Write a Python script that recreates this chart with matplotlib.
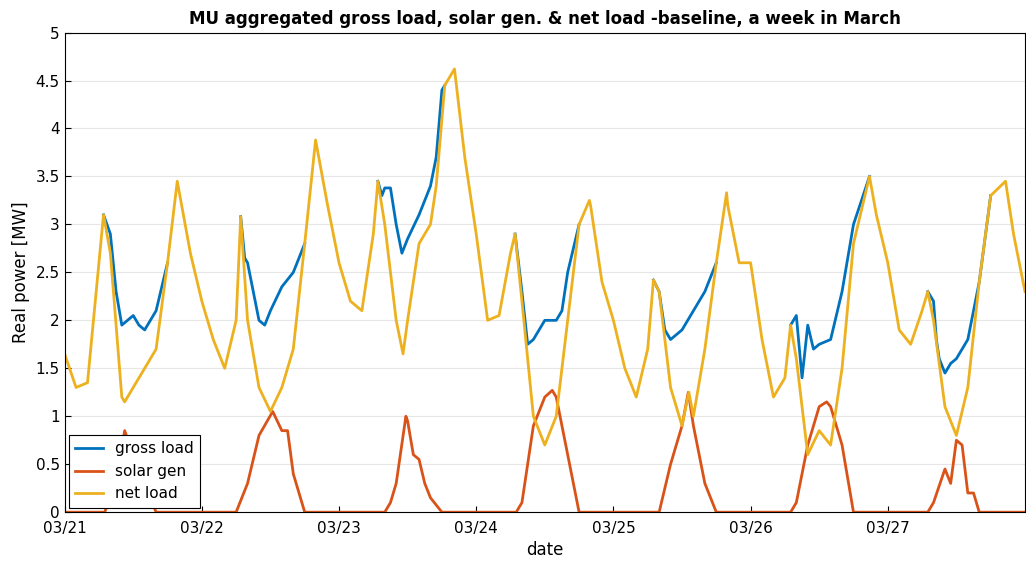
import numpy as np
import matplotlib.pyplot as plt

# net load key points, (hour since 03/21 00:00, MW)
net_h = [0, 2, 4, 6, 6.8, 8, 10, 10.5, 12, 14, 16, 18, 19.7, 22,
         24, 26, 28, 30, 30.8, 32, 34, 36, 38, 40, 42, 43.9, 46,
         48, 50, 52, 54, 54.8, 56, 58, 59.2, 60, 62, 64, 65, 66.5, 68.2, 70,
         72, 74, 76, 78, 78.8, 80, 82, 84, 86, 88, 90, 91.8, 92, 94,
         96, 98, 100, 102, 103, 104, 106, 108, 109.2, 110, 112, 114, 115.8, 116, 118,
         120, 122, 124, 126, 127, 128, 130, 132, 134, 136, 138, 140.8, 142,
         144, 146, 148, 150, 151, 152, 154, 156, 158, 160, 162, 164.6, 166, 168]
net = [1.65, 1.3, 1.35, 2.6, 3.1, 2.7, 1.2, 1.15, 1.3, 1.5, 1.7, 2.6, 3.45, 2.7,
       2.2, 1.8, 1.5, 2.0, 3.08, 2.0, 1.3, 1.05, 1.3, 1.7, 2.8, 3.88, 3.2,
       2.6, 2.2, 2.1, 2.9, 3.45, 3.0, 2.0, 1.65, 2.0, 2.8, 3.0, 3.4, 4.45, 4.62, 3.7,
       2.9, 2.0, 2.05, 2.7, 2.9, 2.2, 1.0, 0.7, 1.0, 2.0, 3.0, 3.25, 3.2, 2.4,
       2.0, 1.5, 1.2, 1.7, 2.42, 2.3, 1.3, 0.9, 1.25, 1.0, 1.7, 2.6, 3.33, 3.2, 2.6,
       2.6, 1.8, 1.2, 1.4, 1.95, 1.6, 0.6, 0.85, 0.7, 1.5, 2.8, 3.5, 3.1,
       2.6, 1.9, 1.75, 2.1, 2.3, 2.0, 1.1, 0.8, 1.3, 2.4, 3.3, 3.45, 2.9, 2.3]

# gross load where it departs from net load (daytime), NaN between days
gross_h = [6.8, 8, 9, 10, 11, 12, 13, 14, 15, 16, 17, 18, np.nan,
           30.8, 31.5, 32, 34, 35, 36, 38, 40, 41, 42, np.nan,
           54.8, 55.5, 56, 57, 58, 59, 60, 62, 63, 64, 65, 66, 66.5, np.nan,
           78.8, 80, 81, 82, 84, 86, 87, 88, 90, np.nan,
           103, 104, 105, 106, 108, 110, 112, 114, np.nan,
           127, 128, 129, 130, 131, 132, 134, 136, 138, 140.8, np.nan,
           151, 152, 152.5, 153, 154, 155, 156, 158, 160, 162]
gross = [3.1, 2.9, 2.3, 1.95, 2.0, 2.05, 1.95, 1.9, 2.0, 2.1, 2.35, 2.6, np.nan,
         3.08, 2.65, 2.6, 2.0, 1.95, 2.1, 2.35, 2.5, 2.65, 2.8, np.nan,
         3.45, 3.3, 3.38, 3.38, 3.0, 2.7, 2.85, 3.1, 3.25, 3.4, 3.7, 4.4, 4.45, np.nan,
         2.9, 2.3, 1.75, 1.8, 2.0, 2.0, 2.1, 2.5, 3.0, np.nan,
         2.42, 2.3, 1.9, 1.8, 1.9, 2.1, 2.3, 2.6, np.nan,
         1.95, 2.05, 1.4, 1.95, 1.7, 1.75, 1.8, 2.3, 3.0, 3.5, np.nan,
         2.3, 2.2, 1.8, 1.6, 1.45, 1.55, 1.6, 1.8, 2.4, 3.3]

# solar generation key points
sol_h = [0, 7, 9, 10.5, 12, 14, 16,
         30, 32, 34, 36.4, 38, 39, 40, 42,
         56, 57, 58, 59.7, 60, 61, 62, 63, 64, 66,
         79, 80, 82, 84, 85.3, 86, 88, 90,
         103, 104, 106, 108, 109.1, 110, 112, 114,
         127, 128, 130, 132, 133.3, 134, 136, 138,
         151, 152, 154, 155, 156, 157, 158, 159, 160, 168]
solar = [0, 0, 0.3, 0.85, 0.6, 0.3, 0,
         0, 0.3, 0.8, 1.05, 0.85, 0.85, 0.4, 0,
         0, 0.1, 0.3, 1.0, 0.95, 0.6, 0.55, 0.3, 0.15, 0,
         0, 0.1, 0.9, 1.2, 1.27, 1.2, 0.6, 0,
         0, 0.0, 0.5, 0.9, 1.25, 0.9, 0.3, 0,
         0, 0.1, 0.7, 1.1, 1.15, 1.1, 0.7, 0,
         0, 0.1, 0.45, 0.3, 0.75, 0.7, 0.2, 0.2, 0, 0]

fig, ax = plt.subplots(figsize=(10.26, 5.71), dpi=100)
fig.subplots_adjust(left=0.063, right=0.999, top=0.943, bottom=0.103)
ax.plot(np.array(gross_h) / 24, gross, color='#0072BD', lw=2, label='gross load')
ax.plot(np.array(sol_h) / 24, solar, color='#D95319', lw=2, label='solar gen')
ax.plot(np.array(net_h) / 24, net, color='#EDB120', lw=2, label='net load')

ax.set_xlim(0, 7)
ax.set_ylim(0, 5)
ax.set_yticks(np.arange(0, 5.01, 0.5))
ax.set_yticklabels(['0', '0.5', '1', '1.5', '2', '2.5', '3', '3.5', '4', '4.5', '5'])
ax.set_xticks(range(7))
ax.set_xticklabels(['03/%d' % d for d in range(21, 28)])
ax.grid(axis='y', color='#e6e6e6', lw=0.8)
ax.set_axisbelow(True)
ax.tick_params(labelsize=11, direction='in', length=4)
ax.tick_params(axis='x', pad=6)
ax.set_xlabel('date', fontsize=12)
ax.set_ylabel('Real power [MW]', fontsize=12)
ax.set_title('MU aggregated gross load, solar gen. & net load -baseline, a week in March',
             fontsize=12, fontweight='bold')
leg = ax.legend(loc='lower left', fontsize=11, fancybox=False, framealpha=1,
                edgecolor='black', borderaxespad=0.3, handlelength=1.8)
leg.get_frame().set_linewidth(0.8)
fig.savefig('out.png')
